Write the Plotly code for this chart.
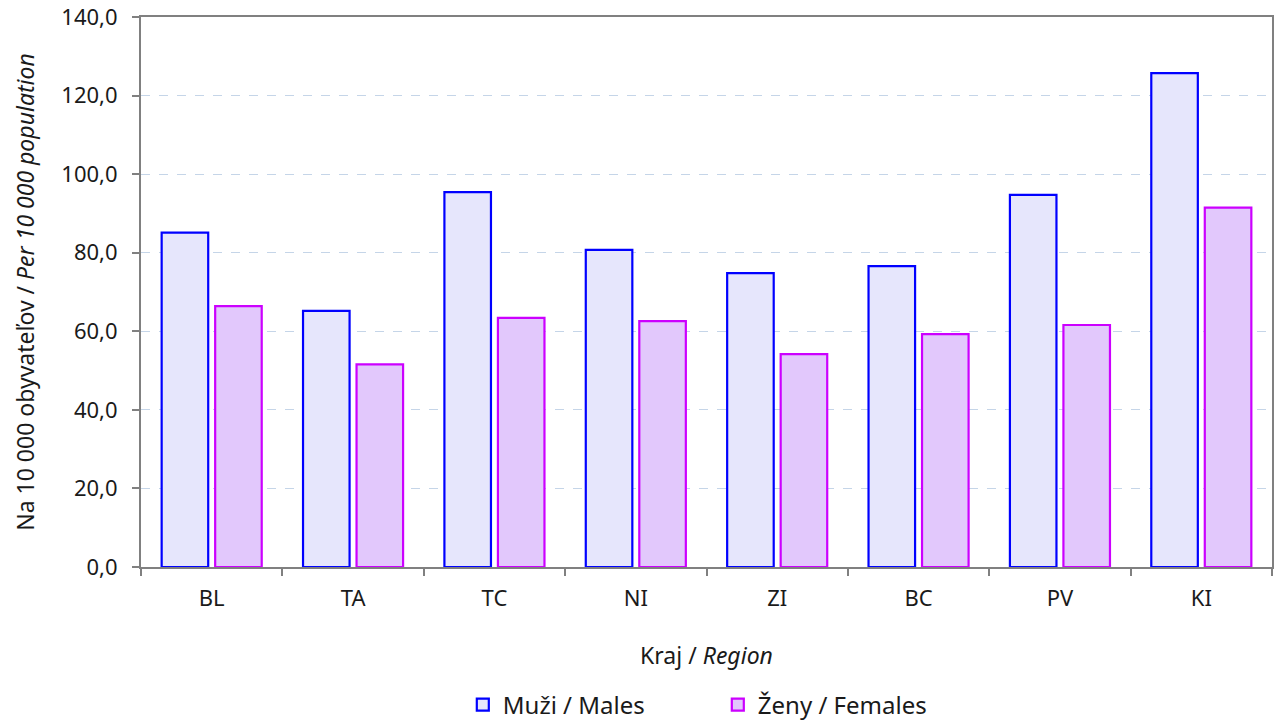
import plotly.graph_objects as go

regions = ["BL", "TA", "TC", "NI", "ZI", "BC", "PV", "KI"]
males = [85.1, 65.2, 95.4, 80.7, 74.8, 76.6, 94.7, 125.7]
females = [66.4, 51.6, 63.4, 62.6, 54.2, 59.3, 61.6, 91.5]
y_ticks = [0, 20, 40, 60, 80, 100, 120, 140]
y_tick_labels = ["0,0", "20,0", "40,0", "60,0", "80,0", "100,0", "120,0", "140,0"]

FONT = "Noto Sans"

fig = go.Figure()
fig.add_trace(go.Bar(
    x=regions, y=males, name="Muži / Males",
    marker=dict(color="#e6e6fc", line=dict(color="#0000ff", width=2.2)),
))
fig.add_trace(go.Bar(
    x=regions, y=females, name="Ženy / Females",
    marker=dict(color="#e2c8fc", line=dict(color="#cc00ff", width=2.2)),
))

fig.update_layout(
    width=1276, height=722,
    margin=dict(l=141, r=4, t=17, b=155, autoexpand=False),
    paper_bgcolor="white", plot_bgcolor="white",
    barmode="group", bargap=0.243, bargroupgap=0.13,
    font=dict(family=FONT, size=22, color="#1a1a1a"),
    legend=dict(orientation="h", x=0.51, xanchor="center", y=-0.251, yanchor="middle",
                font=dict(size=24), itemwidth=30, entrywidth=210, traceorder="normal",
                bgcolor="rgba(0,0,0,0)"),
    xaxis=dict(
        title=dict(text="Kraj / <i>Region</i>", font=dict(size=23), standoff=36),
        showline=True, linecolor="#808080", linewidth=2, mirror=True,
        ticks="outside", ticklen=7, tickcolor="#808080", tickwidth=2,
        tickson="boundaries", tickfont=dict(size=22), automargin=False,
        ticklabelstandoff=11,
    ),
    yaxis=dict(
        title=dict(text="Na 10 000 obyvateľov / <i>Per 10 000 population</i>", font=dict(size=23), standoff=20),
        range=[0, 140], tickvals=y_ticks, ticktext=y_tick_labels,
        showline=True, linecolor="#808080", linewidth=2, mirror=True,
        ticks="outside", ticklen=7, tickcolor="#808080", tickwidth=2,
        showgrid=True, gridcolor="#c5d5e8", griddash="dash", gridwidth=1,
        zeroline=False, tickfont=dict(size=22), automargin=False,
        ticklabelstandoff=10,
    ),
)

fig.write_html("out.html", config={"displayModeBar": False},
               post_script="document.body.style.margin='0px';")
